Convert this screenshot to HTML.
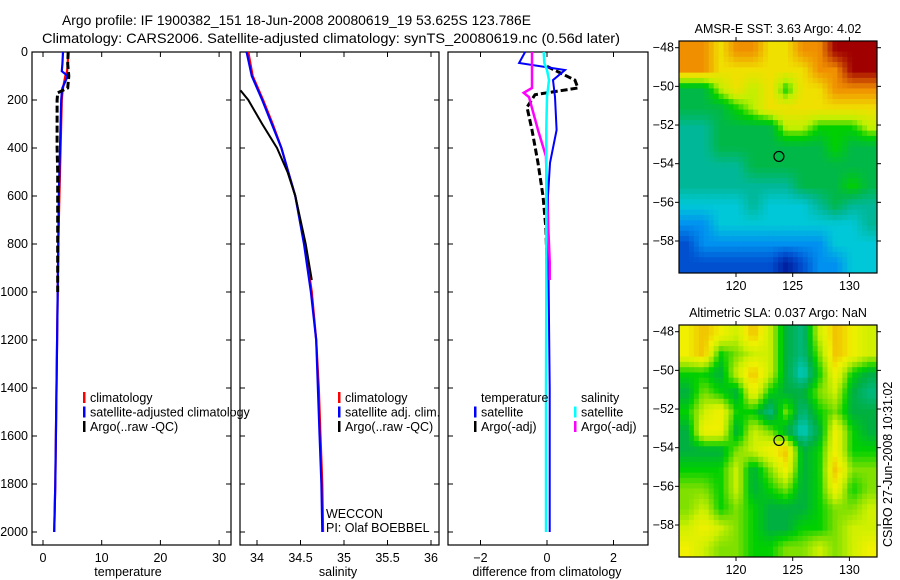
<!DOCTYPE html>
<html><head><meta charset="utf-8">
<style>
html,body{margin:0;padding:0;background:#fff;}
svg{display:block;font-family:"Liberation Sans",sans-serif;}
</style></head>
<body>
<svg id="fig" width="900" height="580" viewBox="0 0 900 580" xmlns="http://www.w3.org/2000/svg">
<text x="62" y="25" font-size="14" textLength="469" lengthAdjust="spacingAndGlyphs">Argo profile: IF 1900382_151 18-Jun-2008 20080619_19 53.625S 123.786E</text>
<text x="42" y="43" font-size="14" textLength="578" lengthAdjust="spacingAndGlyphs">Climatology: CARS2006. Satellite-adjusted climatology: synTS_20080619.nc (0.56d later)</text>
<g id="g"></g>
</svg>
<script>
// ---- profile data ----
const depths = [0,50,80,100,150,170,200,300,400,500,600,800,1000,1200,1400,1600,1800,2000];
const tempClim = [4.3,4.2,4.1,3.8,3.4,3.3,3.2,3.1,3.0,2.9,2.8,2.6,2.5,2.4,2.3,2.2,2.1,1.9];
const tempSat = [3.4,3.3,3.2,4.2,3.3,3.2,3.1,3.0,2.9,2.8,2.7,2.6,2.5,2.4,2.3,2.2,2.1,1.9];
const argoDepths = [0,50,100,150,170,200,300,400,500,600,800,1000];
const tempArgo = [4.3,4.2,4.4,4.2,2.5,2.4,2.4,2.4,2.5,2.5,2.5,2.5];
const salDepths = [0,100,200,300,400,500,600,800,1000,1200,1400,1600,1800,2000];
const salClim = [33.9,33.95,34.07,34.18,34.28,34.36,34.44,34.55,34.63,34.68,34.71,34.73,34.75,34.76];
const salSat = [33.88,33.94,34.06,34.17,34.28,34.36,34.44,34.54,34.62,34.68,34.70,34.72,34.74,34.75];
const salArgoDepths = [160,200,300,400,500,600,800,950];
const salArgo = [33.81,33.9,34.06,34.23,34.35,34.44,34.56,34.63];
const diffDepths = [0,46,75,117,187,325,462,600,800,1000,1400,2000];
const diffTempSat = [-0.66,-0.84,0.54,0.18,0.24,0.29,0.09,0.03,0.04,0.05,0.08,0.08];
const diffArgoDepths = [60,117,150,178,230,325,462,600,740,900];
const diffTempArgo = [0.0,0.84,0.93,-0.36,-0.6,-0.45,-0.27,-0.12,-0.03,0.0];
const diffSalSat = [-0.1,-0.08,0.0,0.06,0.0,-0.02,-0.02,-0.02,-0.02,-0.02,-0.03,-0.03];
const diffSalArgoDepths = [0,150,170,188,325,435,600,875,950];
const diffSalArgo = [-0.45,-0.45,-0.7,-0.54,-0.27,-0.03,0.0,0.08,0.08];
// ---- map data (rows north->south, cols west->east) ----
const sstGrid = [
[9,9,8,9,9,8,8,9,9,10,10,10],
[9,9,8,8,8,8,8,8,9,9,10,10],
[5,5,7,8,7,8,6,8,8,9,9,9],
[5,5,5,6,7,8,8,8,8,8,8,8],
[4,4,5,5,5,5,7,7,6,6,6,7],
[4,4,5,5,5,5,5,5,5,6,5,5],
[4,4,4,4,5,5,5,5,5,5,5,5],
[4,4,4,4,4,4,4,5,5,5,6,5],
[3,3,3,3,4,3,3,3,4,5,4,4],
[2,2,3,3,3,3,3,3,3,3,3,4],
[1,2,2,2,2,2,2,2,2,3,3,3],
[1,1,1,1,1,1,0,1,2,2,3,3]];
const slaGrid = [
[6,7,6,5,7,5,2,1,5,7,6,5],
[6,7,3,4,5,5,2,1,4,7,6,5],
[3,3,2,5,7,5,2,0,3,6,3,2],
[2,4,3,2,6,3,2,2,4,5,2,1],
[3,5,6,3,3,1,4,1,3,4,2,2],
[2,6,6,2,5,4,2,0,2,6,3,2],
[2,2,2,4,5,6,7,2,3,6,3,3],
[3,3,3,5,2,4,6,2,3,7,4,4],
[4,4,3,5,2,3,4,2,3,6,3,4],
[4,5,3,4,3,2,2,2,3,4,4,5],
[5,6,5,4,3,2,2,3,3,4,5,5],
[6,5,4,4,3,3,4,4,5,4,5,6]];
const sstPalette = ['#0020a0','#0050d0','#0090f0','#00c8d8','#00b898','#00b848','#00d000','#c0f000','#f0e000','#f09000','#a00000'];
const slaPalette = ['#00d0d0','#00b880','#00b040','#00d000','#80e000','#d0f000','#f0f000','#f0c000'];
const depthTicks = [0,200,400,600,800,1000,1200,1400,1600,1800,2000];
const tempTicks = [0,10,20,30];
const salTicks = [34,34.5,35,35.5,36];
const diffTicks = [-2,0,2];
const latTicks = [-48,-50,-52,-54,-56,-58];
const lonTicks = [120,125,130];
const floatLon = 123.786, floatLat = -53.625;

const NS='http://www.w3.org/2000/svg';
const G=document.getElementById('g');
function el(tag,attrs,parent){const e=document.createElementNS(NS,tag);for(const k in attrs)e.setAttribute(k,attrs[k]);(parent||G).appendChild(e);return e;}
function txt(s,x,y,opts,parent){const t=el('text',Object.assign({x:x,y:y,'font-size':12.5},opts||{}),parent);t.textContent=s;return t;}

const Y0=52,Y1=545;
const yD=d=>52+d*0.24;
const panels=[
 {name:'temperature',x0:32,x1:231,f:v=>43+v*5.87,ticks:tempTicks,label:'temperature',lx:128},
 {name:'salinity',x0:240,x1:439,f:v=>257+(v-34)*87,ticks:salTicks,label:'salinity',lx:338},
 {name:'difference',x0:448,x1:648,f:v=>547+v*33.25,ticks:diffTicks,label:'difference from climatology',lx:547}
];
panels.forEach((p,i)=>{
 const g=el('g',{});
 
 
 const r=el('rect',{x:p.x0,y:Y0,width:p.x1-p.x0,height:Y1-Y0,fill:'none',stroke:'#000','stroke-width':1.2},g);
 
 
 p.ticks.forEach(t=>{const x=p.f(t);
  el('line',{x1:x,x2:x,y1:Y1,y2:Y1-5,stroke:'#000'},g);
  el('line',{x1:x,x2:x,y1:Y0,y2:Y0+5,stroke:'#000'},g);
  const tl=txt(String(t).replace('-','\u2212'),x,Y1+17,{'text-anchor':'middle'},g);
  
  
 });
 depthTicks.forEach(d=>{const y=yD(d);
  el('line',{x1:p.x0,x2:p.x0+5,y1:y,y2:y,stroke:'#000'},g);
  el('line',{x1:p.x1,x2:p.x1-5,y1:y,y2:y,stroke:'#000'},g);
  if(i===0){const tl=txt(String(d),p.x0-4,y+4,{'text-anchor':'end'},g);
   
   }
 });
 const xl=txt(p.label,p.lx,Y1+31,{'text-anchor':'middle'},g);
 
 
});
function line(ds,vs,f,color,name,w,dash){
 const pts=ds.map((d,k)=>f(vs[k]).toFixed(1)+','+yD(d).toFixed(1)).join(' ');
 const pl=el('polyline',{points:pts,fill:'none',stroke:color,'stroke-width':w||2.2,'stroke-dasharray':dash||'none'});
 
 
}
const P=panels;
line(depths,tempClim,P[0].f,'#f00','temp-climatology-line');
line(depths,tempSat,P[0].f,'#00f','temp-satellite-line');
line(argoDepths,tempArgo,P[0].f,'#000','temp-argo-line',3,'7,3');
line(salDepths,salClim,P[1].f,'#f00','sal-climatology-line');
line(salDepths,salSat,P[1].f,'#00f','sal-satellite-line');
line(salArgoDepths,salArgo,P[1].f,'#000','sal-argo-line',2);
line(diffArgoDepths,diffTempArgo,P[2].f,'#000','diff-temp-argo-line',3,'7,3');
line(diffDepths,diffTempSat,P[2].f,'#00f','diff-temp-satellite-line',2);
line(diffSalArgoDepths,diffSalArgo,P[2].f,'#f0f','diff-sal-argo-line',2.5);
line(diffDepths,diffSalSat,P[2].f,'#0ff','diff-sal-satellite-line',2.5);

function legend(x,y,items,name){
 items.forEach((it,k)=>{
  const yy=y+k*14.5;
  if(it[1]){const m=el('rect',{x:x,y:yy-10,width:2.5,height:11,fill:it[1]});
   
   }
  const t=txt(it[0],x+7,yy);
  
  
 });
}
legend(83,402,[['climatology','#f00'],['satellite-adjusted climatology','#00f'],['Argo(..raw -QC)','#000']],'temp-legend');
legend(338,402,[['climatology','#f00'],['satellite adj. clim.','#00f'],['Argo(..raw -QC)','#000']],'sal-legend');
legend(474,402,[['temperature',null],['satellite','#00f'],['Argo(-adj)','#000']],'diff-temp-legend');
legend(574,402,[['salinity',null],['satellite','#0ff'],['Argo(-adj)','#f0f']],'diff-sal-legend');
el('rect',{x:232,y:390,width:7,height:20,fill:'#fff'});
const w1=txt('WECCON',326,518);


const w2=txt('PI: Olaf BOEBBEL',326,532);



// ---- maps ----
function hex2rgb(h){return [1,3,5].map(i=>parseInt(h.substr(i,2),16));}
function palColor(pal,v){
 const i=Math.max(0,Math.min(pal.length-1.001,v));const a=Math.floor(i),t=i-a;
 const c0=hex2rgb(pal[a]),c1=hex2rgb(pal[Math.min(a+1,pal.length-1)]);
 return 'rgb('+c0.map((c,k)=>Math.round(c+(c1[k]-c)*t)).join(',')+')';
}
function sample(grid,r,c){ // bilinear on cell centres
 const R=grid.length,C=grid[0].length;
 const rr=Math.max(0,Math.min(R-1,r-0.5)),cc=Math.max(0,Math.min(C-1,c-0.5));
 const r0=Math.floor(rr),c0=Math.floor(cc),r1=Math.min(R-1,r0+1),c1=Math.min(C-1,c0+1);
 const tr=rr-r0,tc=cc-c0;
 return grid[r0][c0]*(1-tr)*(1-tc)+grid[r0][c1]*(1-tr)*tc+grid[r1][c0]*tr*(1-tc)+grid[r1][c1]*tr*tc;
}
function map(y0,y1,grid,pal,title,name){
 const x0=679,x1=877;
 const lx=v=>736+(v-120)*11.34;
 const ly=v=>(y0+6.7)+(-48-v)*19.33;
 const g=el('g',{});
 
 
 const R=grid.length,C=grid[0].length,N=44,M=40;
 const cw=(x1-x0)/M,ch=(y1-y0)/N;
 for(let i=0;i<N;i++)for(let j=0;j<M;j++){
  const v=sample(grid,(i+0.5)*R/N,(j+0.5)*C/M);
  const cell=el('rect',{x:(x0+j*cw).toFixed(2),y:(y0+i*ch).toFixed(2),width:(cw+0.5).toFixed(2),height:(ch+0.5).toFixed(2),fill:palColor(pal,v)},g);
  
  
 }
 el('rect',{x:x0,y:y0,width:x1-x0,height:y1-y0,fill:'none',stroke:'#000','stroke-width':1.2},g);
 latTicks.forEach(t=>{const y=ly(t);
  el('line',{x1:x0-4,x2:x0,y1:y,y2:y,stroke:'#000'},g);
  el('line',{x1:x1,x2:x1+4,y1:y,y2:y,stroke:'#000'},g);
  const tl=txt(String(t).replace('-','\u2212'),x0-5,y+4,{'text-anchor':'end'},g);
  
  
 });
 lonTicks.forEach(t=>{const x=lx(t);
  el('line',{x1:x,x2:x,y1:y0-4,y2:y0,stroke:'#000'},g);
  el('line',{x1:x,x2:x,y1:y1,y2:y1+4,stroke:'#000'},g);
  const tl=txt(String(t),x,y1+17,{'text-anchor':'middle'},g);
  
  
 });
 const c=el('circle',{cx:lx(floatLon),cy:ly(floatLat),r:5,fill:'none',stroke:'#000','stroke-width':1.2},g);
 
 
 const tt=txt(title,778,y0-8,{'text-anchor':'middle'},g);
 
 
}
map(41,273,sstGrid,sstPalette,'AMSR-E SST: 3.63 Argo: 4.02','sst-map');
map(325,557,slaGrid,slaPalette,'Altimetric SLA: 0.037 Argo: NaN','sla-map');
const cs=txt('CSIRO 27-Jun-2008 10:31:02',0,0,{transform:'translate(892,547) rotate(-90)'});


</script>
</body></html>
